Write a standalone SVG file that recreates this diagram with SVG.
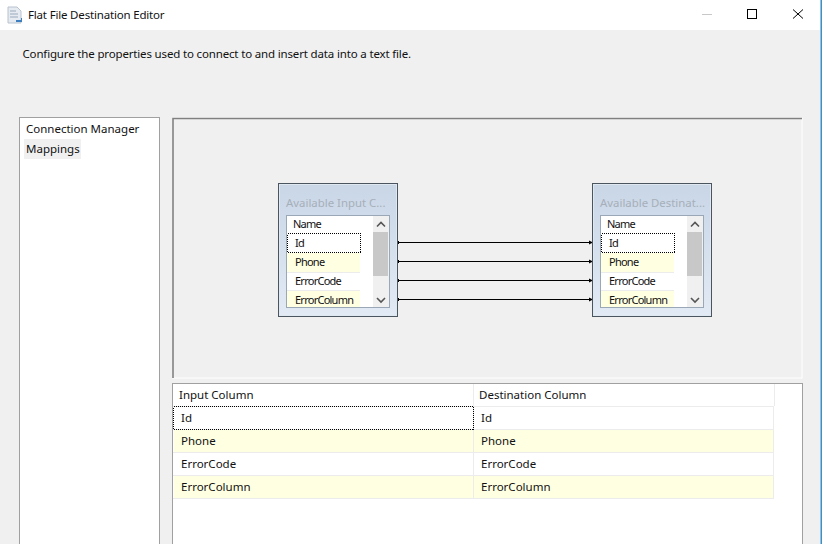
<svg xmlns="http://www.w3.org/2000/svg" width="822" height="544" viewBox="0 0 822 544">
<defs>
<linearGradient id="boxGrad" x1="0" y1="0" x2="0" y2="1"><stop offset="0" stop-color="#c9d6e6"/><stop offset="1" stop-color="#e2eaf5"/></linearGradient>
<marker id="dot" markerWidth="4" markerHeight="4" refX="2" refY="2" markerUnits="userSpaceOnUse"><rect x="0" y="0.5" width="3" height="3" fill="#000"/></marker>
<marker id="head" markerWidth="5" markerHeight="5" refX="4" refY="2.5" markerUnits="userSpaceOnUse" orient="auto"><path d="M0 0.5L4 2.5L0 4.5Z" fill="#000"/></marker>
</defs>
<style>
text{font-family:"Noto Sans","Open Sans","Liberation Sans",sans-serif;font-size:11.500px;fill:#111}
.title{letter-spacing:-.18px}
.desc{letter-spacing:-.16px}
.t{font-size:11px;letter-spacing:-.75px}
.cap{font-size:11.400px;fill:#a6afb9}
.y{fill:#ffffe2}
.sep{stroke:#ececec;stroke-width:1}
.box{fill:url(#boxGrad);stroke:#4b5560;stroke-width:1}
.inner{fill:none;stroke:#dfe7f1;stroke-width:1}
.list{fill:#fff;stroke:#9aa7b6;stroke-width:1}
.focus{fill:none;stroke:#000;stroke-width:1;stroke-dasharray:1 1;shape-rendering:crispEdges}
.bar{fill:#f0f0f0}
.thumb{fill:#c8c8c8}
.chev{fill:none;stroke:#555;stroke-width:1.600}
.link{stroke:#000;stroke-width:1;fill:none;marker-start:url(#dot);marker-end:url(#head)}
</style>
<rect width="822" height="544" fill="#f0f0f0"/>
<rect width="820" height="30" fill="#fff"/>
<rect x="820.500" y="0" width="1.500" height="544" fill="#3d8fc9"/>
<g id="titlebar">
<path d="M8 7h9l4 4v12H8z" fill="#e6ebf2" stroke="#b9c2cf" stroke-width="1"/>
<path d="M10 11h6M10 14h8M10 17h8" stroke="#9aa8ba" stroke-width="1"/>
<path d="M16 20h5v-2l1 0v4h-6z" fill="#3f7fc0"/>
<text class="title" x="28" y="19">Flat File Destination Editor</text>
<line x1="702" y1="14.500" x2="712" y2="14.500" stroke="#c8c8c8"/>
<rect x="747.500" y="9.500" width="9" height="9" fill="none" stroke="#000" stroke-width="1"/>
<path d="M793 9.500L803 18.500M803 9.500L793 18.500" stroke="#000" stroke-width="1" fill="none"/>
</g>
<text class="desc" x="22.500" y="58" id="description">Configure the properties used to connect to and insert data into a text file.</text>
<g id="nav">
<rect x="19.500" y="117.500" width="140" height="440" fill="#fff" stroke="#a0a0a0"/>
<rect x="24" y="139" width="57" height="20" fill="#f0f0f0"/>
<text x="26" y="133">Connection Manager</text>
<text x="26" y="153">Mappings</text>
</g>
<g id="canvas">
<rect x="173" y="118" width="629" height="260" fill="#f0f0f0" stroke="#fff" stroke-width="1"/>
<path d="M173 378V118.500H802" fill="none" stroke="#808080" stroke-width="1.600"/>
</g>
<g id="connectors">
<line class="link" x1="398" y1="242.500" x2="593" y2="242.500"/>
<line class="link" x1="398" y1="261.500" x2="593" y2="261.500"/>
<line class="link" x1="398" y1="280.500" x2="593" y2="280.500"/>
<line class="link" x1="398" y1="299.500" x2="593" y2="299.500"/>
</g>
<g id="input-box">
<rect class="box" x="278.500" y="183.500" width="119" height="133"/>
<rect class="inner" x="279.500" y="184.500" width="117" height="131"/>
<text class="cap" x="286" y="207">Available Input C...</text>
<rect class="list" x="286.500" y="215.500" width="103" height="92"/>
<rect class="y" x="287" y="253" width="73" height="19"/>
<rect class="y" x="287" y="291" width="73" height="16"/>
<line class="sep" x1="287" x2="360" y1="272.500" y2="272.500"/>
<line class="sep" x1="287" x2="360" y1="290.500" y2="290.500"/>
<rect class="focus" x="287.500" y="233.500" width="73" height="19"/>
<rect class="bar" x="373" y="216" width="16" height="91"/>
<rect class="thumb" x="373" y="232" width="15" height="44"/>
<path class="chev" d="M377 226.500L381 222.500L385 226.500M377 298L381 302L385 298"/>
<text class="t" x="293" y="228">Name</text>
<text class="t" x="295" y="247">Id</text>
<text class="t" x="295" y="266">Phone</text>
<text class="t" x="295" y="285">ErrorCode</text>
<text class="t" x="295" y="304">ErrorColumn</text>
</g>
<g id="destination-box">
<rect class="box" x="592.500" y="183.500" width="119" height="133"/>
<rect class="inner" x="593.500" y="184.500" width="117" height="131"/>
<text class="cap" x="600" y="207">Available Destinat...</text>
<rect class="list" x="600.500" y="215.500" width="103" height="92"/>
<rect class="y" x="601" y="253" width="73" height="19"/>
<rect class="y" x="601" y="291" width="73" height="16"/>
<line class="sep" x1="601" x2="674" y1="272.500" y2="272.500"/>
<line class="sep" x1="601" x2="674" y1="290.500" y2="290.500"/>
<rect class="focus" x="601.500" y="233.500" width="73" height="19"/>
<rect class="bar" x="687" y="216" width="16" height="91"/>
<rect class="thumb" x="687" y="232" width="15" height="44"/>
<path class="chev" d="M691 226.500L695 222.500L699 226.500M691 298L695 302L699 298"/>
<text class="t" x="607" y="228">Name</text>
<text class="t" x="609" y="247">Id</text>
<text class="t" x="609" y="266">Phone</text>
<text class="t" x="609" y="285">ErrorCode</text>
<text class="t" x="609" y="304">ErrorColumn</text>
</g>
<g id="grid">
<rect x="172.500" y="383.500" width="630" height="170" fill="#fff" stroke="#a0a0a0"/>
<rect x="174" y="430" width="599" height="22" class="y"/>
<rect x="174" y="476" width="599" height="22" class="y"/>
<path class="sep" d="M173 406.500H774M173 429.500H774M173 452.500H774M173 475.500H774M173 498.500H774M473.500 384V498M773.500 407V498M774.500 384V406" fill="none"/>
<rect class="focus" x="173.500" y="406.500" width="300" height="23"/>
<text x="179" y="399">Input Column</text>
<text x="479" y="399">Destination Column</text>
<text x="181" y="422">Id</text><text x="481" y="422">Id</text>
<text x="181" y="445">Phone</text><text x="481" y="445">Phone</text>
<text x="181" y="468">ErrorCode</text><text x="481" y="468">ErrorCode</text>
<text x="181" y="491">ErrorColumn</text><text x="481" y="491">ErrorColumn</text>
</g>
</svg>
